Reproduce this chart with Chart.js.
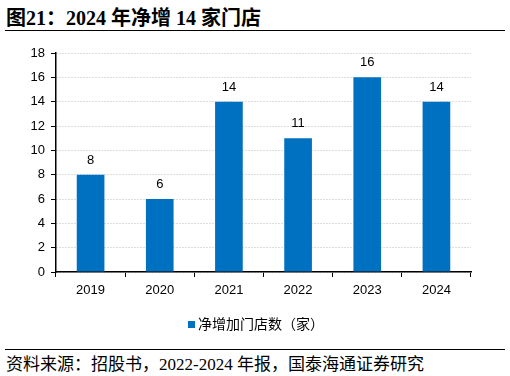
<!DOCTYPE html>
<html>
<head>
<meta charset="utf-8">
<script src="https://cdn.jsdelivr.net/npm/chart.js@4"></script>
<style>
  body { margin: 0; width: 510px; height: 376px; background: #fff; position: relative; overflow: hidden; }
  #title { position: absolute; left: 6px; top: 2px; font: bold 20px "Liberation Serif", "Noto Sans CJK SC", serif; color: #000; white-space: nowrap; }
  #topline { position: absolute; left: 5px; right: 5px; top: 30px; border-top: 1.5px solid #000; }
  #botline { position: absolute; left: 5px; right: 5px; top: 349px; border-top: 1px solid #000; }
  #source { position: absolute; left: 6px; top: 350px; font: 17px "Liberation Serif", "Noto Sans CJK SC", serif; color: #000; white-space: nowrap; }
  #wrap { position: absolute; left: 0; top: 0; width: 510px; height: 345px; }
  #legend { position: absolute; left: 188px; top: 313px; height: 20px; line-height: 20px; font: 14px "Noto Sans CJK SC", sans-serif; color: #000; white-space: nowrap; }
  #legend .box { display: inline-block; width: 7px; height: 7px; background: #0070C0; margin-right: 3px; vertical-align: 1px; }
</style>
</head>
<body>
<div id="title">图21：2024 年净增 14 家门店</div>
<div id="topline"></div>
<div id="wrap"><canvas id="c" width="510" height="345"></canvas></div>
<div id="legend"><span class="box"></span><span id="legendText"></span></div>
<div id="botline"></div>
<div id="source">资料来源：招股书，2022-2024 年报，国泰海通证券研究</div>
<script>
const years = ['2019', '2020', '2021', '2022', '2023', '2024'];
const netAdds = [8, 6, 14, 11, 16, 14];
const seriesName = '净增加门店数（家）';

document.getElementById('legendText').textContent = seriesName;

// value labels above each bar
const barLabels = {
  id: 'barLabels',
  afterDatasetsDraw(chart) {
    const ctx = chart.ctx;
    ctx.save();
    ctx.font = '13px "Liberation Sans", Arial, sans-serif';
    ctx.fillStyle = '#000';
    ctx.textAlign = 'center';
    ctx.textBaseline = 'bottom';
    chart.getDatasetMeta(0).data.forEach((bar, i) => {
      ctx.fillText(netAdds[i], bar.x, bar.y - 8);
    });
    ctx.restore();
  }
};

new Chart(document.getElementById('c'), {
  type: 'bar',
  data: {
    labels: years,
    datasets: [{
      label: seriesName,
      data: netAdds,
      backgroundColor: '#0070C0',
      categoryPercentage: 0.4,
      barPercentage: 1.0
    }]
  },
  options: {
    responsive: false,
    animation: false,
    layout: { padding: { top: 53, right: 39, left: 0, bottom: 43 } },
    plugins: {
      legend: { display: false },
      tooltip: { enabled: false }
    },
    scales: {
      x: {
        grid: { drawOnChartArea: false, offset: true, tickLength: 5, tickColor: '#000' },
        border: { color: '#000', width: 1.5 },
        ticks: { color: '#000', padding: 6, font: { size: 13, family: '"Liberation Sans", Arial, sans-serif' } },
        afterFit(s) { s.height = 30; }
      },
      y: {
        min: 0, max: 18,
        ticks: { stepSize: 2, color: '#000', padding: 6, font: { size: 13, family: '"Liberation Sans", Arial, sans-serif' } },
        grid: { color: '#bdbdbd', tickColor: '#000', tickLength: 5 },
        border: { color: '#000', width: 1.5, dash: [1, 2] },
        afterFit(s) { s.width = 56; }
      }
    }
  },
  plugins: [barLabels]
});
</script>
</body>
</html>
